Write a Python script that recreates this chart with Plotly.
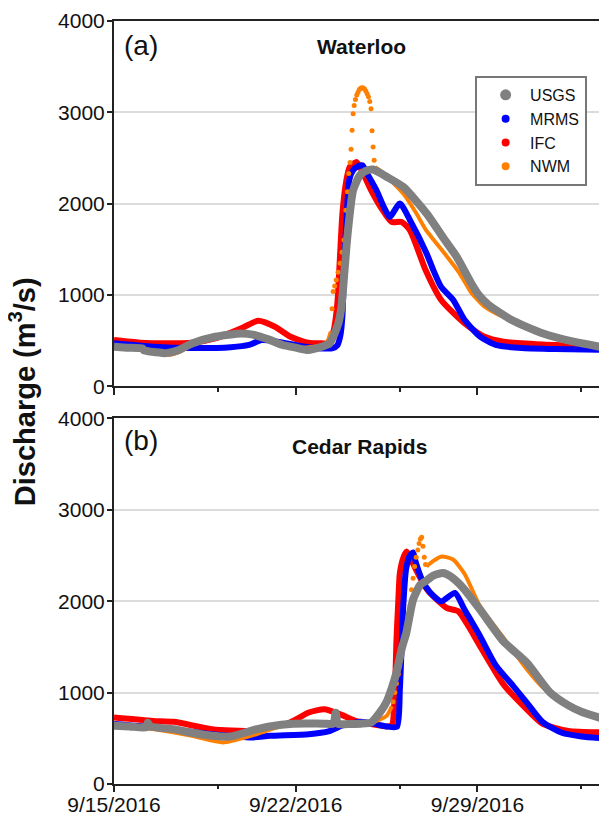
import pandas as pd
import plotly.graph_objects as go

START = pd.Timestamp("2016-09-15")
X_END_DAY = 18.95

# ---------------- Panel (a) Waterloo ----------------
usgs_a_day = [0, 0.5, 1.1, 1.15, 1.6, 2.0, 2.5, 3.0, 3.9, 4.9, 5.4, 6.0, 6.5, 7.0, 7.47, 8.0, 8.3, 8.5,
              8.65, 8.76, 8.89, 9.0, 9.21, 9.47, 9.7, 9.98, 10.5, 11.14, 12.04, 12.75, 13.2, 13.8, 14.05,
              14.4, 15.3, 16.5, 17.7, 19.0]
usgs_a_val = [435, 425, 415, 395, 375, 365, 400, 470, 544, 581, 565, 510, 454, 425, 399, 435, 470, 581,
              700, 872, 1310, 1675, 2148, 2311, 2360, 2374, 2295, 2184, 1893, 1600, 1419, 1110, 1000,
              900, 730, 583, 490, 420]

mrms_a_day = [0, 1.5, 3.0, 4.5, 5.2, 5.68, 6.3, 7.0, 7.5, 8.0, 8.4, 8.6, 8.72, 8.8, 8.86, 8.95, 9.06,
              9.21, 9.4, 9.57, 9.75, 10.11, 10.4, 10.62, 11.01, 11.4, 12.04, 12.3, 12.6, 13.06, 13.5,
              14.1, 14.7, 15.7, 17.0, 19.0]
mrms_a_val = [472, 435, 420, 430, 455, 508, 490, 454, 430, 417, 417, 450, 560, 780, 1310, 1800, 2257,
              2366, 2410, 2421, 2330, 2148, 1960, 1856, 2002, 1820, 1456, 1273, 1090, 950, 730,
              546, 455, 420, 410, 400]

ifc_a_day = [0, 1.0, 2.0, 3.0, 3.9, 4.9, 5.55, 6.2, 6.8, 7.47, 8.0, 8.26, 8.45, 8.6, 8.7, 8.8, 8.95,
             9.08, 9.34, 9.6, 9.9, 10.3, 10.69, 11.08, 11.4, 12.0, 12.6, 13.5, 14.25, 15.0, 16.5, 19.0]
ifc_a_val = [508, 480, 472, 479, 527, 636, 719, 654, 544, 479, 472, 474, 600, 900, 1400, 1900, 2257,
             2402, 2457, 2330, 2150, 1950, 1801, 1801, 1710, 1275, 947, 692, 546, 490, 460, 437]

nwm_a_day = [0, 1.0, 1.5, 2.07, 2.6, 3.0, 3.9, 4.9, 6.0, 7.0, 7.5, 8.0, 8.2, 8.35, None,
             10.06, 10.37, 11.14, 11.65, 12.0, 12.75, 13.26, 13.5, 13.73, 14.25, 15.0, 16.5, 19.0]
nwm_a_val = [430, 420, 390, 344, 390, 460, 540, 575, 505, 420, 430, 450, 480, 600, None,
             2400, 2335, 2112, 1893, 1720, 1450, 1260, 1150, 1040, 880, 760, 583, 420]
nwm_a_dot_day = [8.40, 8.44, 8.5, 8.56, 8.63, 8.71, 8.78, 8.86, 8.93, 8.99, 9.04, 9.09, 9.13, 9.17,
                 9.21, 9.25, 9.3, 9.35, 9.4, 9.45, 9.5, 9.55, 9.6, 9.65, 9.7, 9.75, 9.8, 9.85, 9.9,
                 9.94, 9.98, 10.02]
nwm_a_dot_val = [850, 1040, 1100, 1166, 1250, 1348, 1470, 1603, 1930, 2130, 2331, 2450, 2596, 2803,
                 2986, 3076, 3140, 3190, 3220, 3250, 3265, 3270, 3268, 3255, 3235, 3205, 3170, 3120,
                 3040, 2800, 2621, 2475]

# ---------------- Panel (b) Cedar Rapids ----------------
usgs_b_day = [0, 0.6, 1.25, 1.3, 1.4, 2.3, 3.0, 3.77, 4.5, 5.27, 6.0, 6.9, 7.5, 8.1, 8.45, 8.54, 8.62,
              9.0, 9.5, 9.9, 10.24, 10.5, 10.7, 10.88, 11.1, 11.26, 11.52, 11.8, 12.0, 12.3, 12.68,
              13.06, 13.5, 14.1, 15.0, 15.9, 16.8, 17.5, 18.0, 19.0]
usgs_b_val = [636, 630, 620, 670, 630, 600, 560, 527, 520, 582, 630, 660, 662, 660, 660, 780, 660,
              655, 660, 673, 782, 900, 1050, 1218, 1500, 1655, 2017, 2180, 2218, 2280, 2307,
              2250, 2127, 1907, 1560, 1326, 1000, 860, 790, 700]

mrms_b_day = [0, 1.5, 3.77, 5.27, 6.0, 7.5, 8.26, 8.8, 9.5, 10.0, 10.5, 10.9, 11.01, 11.08, 11.14,
              11.25, 11.4, 11.52, 11.63, 11.86, 12.16, 12.6, 13.13, 13.5, 14.1, 14.7, 15.38, 15.9,
              16.5, 17.25, 18.0, 19.0]
mrms_b_val = [655, 618, 545, 509, 527, 545, 575, 640, 680, 660, 630, 625, 1035, 1500, 1943,
              2350, 2500, 2532, 2418, 2236, 2100, 1998, 2090, 1909, 1617, 1300, 1071, 890,
              680, 560, 520, 498]

ifc_b_day = [0, 1.5, 2.3, 3.77, 5.27, 6.77, 7.5, 8.1, 8.7, 9.3, 9.9, 10.5, 10.7, 10.82, 10.88, 10.95,
             11.01, 11.15, 11.27, 11.4, 11.63, 12.0, 12.17, 12.81, 13.26, 13.6, 14.1, 15.0, 15.9,
             16.5, 17.5, 19.0]
ifc_b_val = [727, 690, 680, 600, 582, 673, 782, 818, 764, 690, 655, 630, 640, 1035, 1580, 2000,
             2307, 2480, 2543, 2480, 2345, 2150, 2090, 1926, 1890, 1750, 1508, 1090, 817,
             660, 580, 564]

nwm_b_day = [0, 1.5, 3.0, 4.2, 5.27, 6.77, 8.0, 9.0, 10.0, 10.5, 10.7, None,
             12.04, 12.3, 12.62, 13.06, 13.5, 14.1, 15.0, 15.9, 16.5, 17.25, 18.0, 19.0]
nwm_b_val = [655, 600, 527, 455, 527, 655, 650, 655, 680, 745, 850, None,
             2380, 2440, 2489, 2455, 2300, 1943, 1600, 1254, 1060, 900, 790, 727]
nwm_b_dot_day = [10.75, 10.82, 10.88, 10.95, 11.0, 11.05, 11.1, 11.15, 11.2, 11.25, 11.33, 11.4,
                 11.46, 11.52, 11.58, 11.64, 11.7, 11.75, 11.8, 11.85, 11.9, 11.95, 12.0]
nwm_b_dot_val = [900, 1000, 1100, 1200, 1290, 1380, 1460, 1550, 1630, 1700, 1762, 1950,
                 2125, 2250, 2380, 2480, 2560, 2630, 2680, 2700, 2600, 2480, 2400]

# ---------------- Axes text ----------------
tick_days = [0, 7, 14]
tick_labels = ["9/15/2016", "9/22/2016", "9/29/2016"]
minor_tick_days = [4, 11, 18]
y_ticks = [0, 1000, 2000, 3000, 4000]
series_names = ["USGS", "MRMS", "IFC", "NWM"]
series_colors = {"USGS": "#808080", "MRMS": "#0000ff", "IFC": "#ff0000", "NWM": "#ff8000"}


def to_dates(days):
    return [None if d is None else START + pd.to_timedelta(d, unit="D") for d in days]


fig = go.Figure()

widths = {"USGS": 8, "MRMS": 6, "IFC": 6, "NWM": 4}


def add_line(days, vals, name, xa, ya):
    fig.add_trace(go.Scatter(
        x=to_dates(days), y=vals, mode="lines", name=name, showlegend=False,
        line=dict(color=series_colors[name], width=widths[name], shape="spline", smoothing=0.6),
        connectgaps=False, xaxis=xa, yaxis=ya, hoverinfo="skip"))


def add_dots(days, vals, name, xa, ya):
    fig.add_trace(go.Scatter(
        x=to_dates(days), y=vals, mode="markers", name=name, showlegend=False,
        marker=dict(color=series_colors[name], size=5), xaxis=xa, yaxis=ya, hoverinfo="skip"))


# panel a (top): x, y ; panel b (bottom): x2, y2
add_line(ifc_a_day, ifc_a_val, "IFC", "x", "y")
add_line(mrms_a_day, mrms_a_val, "MRMS", "x", "y")
add_line(nwm_a_day, nwm_a_val, "NWM", "x", "y")
add_dots(nwm_a_dot_day, nwm_a_dot_val, "NWM", "x", "y")
add_line(usgs_a_day, usgs_a_val, "USGS", "x", "y")

add_line(ifc_b_day, ifc_b_val, "IFC", "x2", "y2")
add_line(mrms_b_day, mrms_b_val, "MRMS", "x2", "y2")
add_line(nwm_b_day, nwm_b_val, "NWM", "x2", "y2")
add_dots(nwm_b_dot_day, nwm_b_dot_val, "NWM", "x2", "y2")
add_line(usgs_b_day, usgs_b_val, "USGS", "x2", "y2")

# empty traces so the tick-mark overlay axes are drawn
for xa, ya in [("x3", "y2"), ("x", "y3"), ("x2", "y4")]:
    fig.add_trace(go.Scatter(x=[None], y=[None], mode="markers", showlegend=False,
                             xaxis=xa, yaxis=ya, hoverinfo="skip"))

# legend entries (dot symbols)
legend_sizes = {"USGS": 11, "MRMS": 8, "IFC": 8, "NWM": 8}
for n in series_names:
    fig.add_trace(go.Scatter(x=[None], y=[None], mode="markers", name="\u00a0" + n,
                             marker=dict(color=series_colors[n], size=legend_sizes[n]),
                             xaxis="x", yaxis="y"))

FONT = "Liberation Sans, Arial, sans-serif"
TICKC = "#222"
x_range = to_dates([0, X_END_DAY])
minor_ticks = dict(tickmode="array", tickvals=to_dates(minor_tick_days), ticks="outside",
                   ticklen=4, tickwidth=1.5, tickcolor=TICKC, showgrid=False)
xbase = dict(type="date", range=x_range, showgrid=False, zeroline=False, automargin=False,
             tickmode="array", tickvals=to_dates(tick_days), ticktext=tick_labels,
             tickfont=dict(family=FONT, size=21, color="#111"))
ybase = dict(range=[0, 4000], tickmode="array", tickvals=y_ticks, automargin=False,
             zeroline=False, tickfont=dict(family=FONT, size=21, color="#111"))
# label axes: grid, box line, labels (no tick marks, so the labels sit near the axis)
ylabel_axis = dict(**ybase, showgrid=True, gridcolor="#dcdcdc", gridwidth=1.5,
                   showline=True, linecolor=TICKC, linewidth=2, mirror=True,
                   ticks="", ticklabelstandoff=3)
# tick-mark axes overlaid on them
ytick_axis = dict(**ybase, showgrid=False, showline=False, showticklabels=False, side="left",
                  ticks="outside", ticklen=6, tickwidth=1.5, tickcolor=TICKC)

# The page body has an 8 px margin, so the figure is drawn 8 px smaller than the window.
fig.update_layout(
    width=599, height=806,
    margin=dict(l=106, r=1, t=13, b=30),
    paper_bgcolor="white", plot_bgcolor="white",
    xaxis=dict(**xbase, anchor="y", domain=[0, 1], showticklabels=False,
               showline=True, linecolor=TICKC, linewidth=2, mirror=True,
               ticks="outside", ticklen=7, tickwidth=1.5, tickcolor=TICKC, minor=minor_ticks),
    yaxis=dict(**ylabel_axis, anchor="x", domain=[0.521, 1]),
    yaxis3=dict(**ytick_axis, anchor="x", overlaying="y"),
    xaxis2=dict(**xbase, anchor="y2", domain=[0, 1], showticklabels=True,
                showline=True, linecolor=TICKC, linewidth=2, mirror=True,
                ticks="", ticklabelstandoff=1),
    xaxis3=dict(**xbase, anchor="y2", overlaying="x2", domain=[0, 1], showticklabels=False,
                showline=False, ticks="outside", ticklen=7, tickwidth=1.5, tickcolor=TICKC,
                minor=minor_ticks),
    yaxis2=dict(**ylabel_axis, anchor="x2", domain=[0, 0.4793]),
    yaxis4=dict(**ytick_axis, anchor="x2", overlaying="y2"),
    legend=dict(x=0.733, y=0.928, xanchor="left", yanchor="top",
                bgcolor="white", bordercolor="#777", borderwidth=2,
                font=dict(family=FONT, size=16, color="#111"),
                indentation=9, tracegroupgap=0),
    font=dict(family=FONT, color="#111"),
    showlegend=True,
)

fig.add_annotation(text="(a)", x=0.017, y=0.934, xref="x domain", yref="y domain",
                   xanchor="left", yanchor="middle", showarrow=False,
                   font=dict(family=FONT, size=28, color="#111"))
fig.add_annotation(text="<b>Waterloo</b>", x=0.504, y=0.929, xref="x domain", yref="y domain",
                   xanchor="center", yanchor="middle", showarrow=False,
                   font=dict(family=FONT, size=21, color="#111"))
fig.add_annotation(text="(b)", x=0.017, y=0.939, xref="x2 domain", yref="y2 domain",
                   xanchor="left", yanchor="middle", showarrow=False,
                   font=dict(family=FONT, size=28, color="#111"))
fig.add_annotation(text="<b>Cedar Rapids</b>", x=0.498, y=0.9235, xref="x2 domain", yref="y2 domain",
                   xanchor="center", yanchor="middle", showarrow=False,
                   font=dict(family=FONT, size=21, color="#111"))
fig.add_annotation(text="<b>Discharge (m<sup>3</sup>/s)</b>", x=-0.1854, y=0.5145,
                   xref="paper", yref="paper", xanchor="center", yanchor="middle",
                   textangle=-90, showarrow=False,
                   font=dict(family=FONT, size=29, color="#111"))

fig.write_html("out.html")
